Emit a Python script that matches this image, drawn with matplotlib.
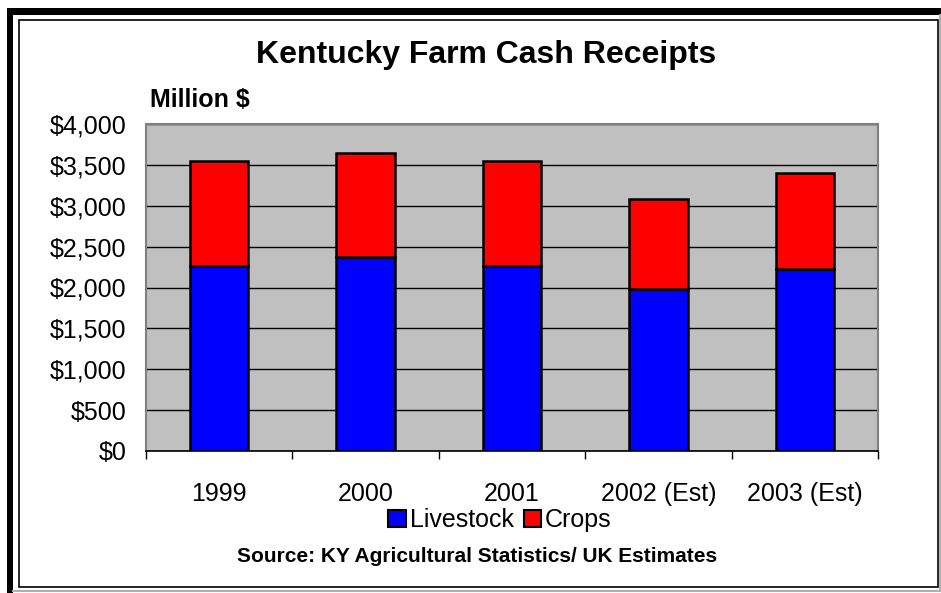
import matplotlib
matplotlib.use("Agg")
import matplotlib.pyplot as plt
import numpy as np
from matplotlib.patches import Patch, Rectangle
from matplotlib.ticker import FuncFormatter, MultipleLocator

plt.rcParams["font.family"] = ["Liberation Sans", "DejaVu Sans"]

# data (million $)
years = ["1999", "2000", "2001", "2002 (Est)", "2003 (Est)"]
livestock = [2260, 2370, 2265, 1980, 2230]
crops = [1290, 1270, 1280, 1105, 1170]

W, H = 941, 593


def fx(px):
    return px / W


def fy(py):
    return 1 - py / H


fig = plt.figure(figsize=(W / 100, H / 100), dpi=100)
fig.patch.set_facecolor("white")

# outer frame: thick black top/left, thin grey right/bottom, thin inner box
fig.add_artist(Rectangle((fx(7), fy(15)), fx(934), 7 / H, transform=fig.transFigure,
                         facecolor="black", edgecolor="none"))
fig.add_artist(Rectangle((fx(7), 0), 6 / W, fy(15), transform=fig.transFigure,
                         facecolor="black", edgecolor="none"))
fig.add_artist(Rectangle((fx(19), fy(587)), fx(919), (587 - 20) / H,
                         transform=fig.transFigure, facecolor="none",
                         edgecolor="black", linewidth=1.2))
fig.add_artist(plt.Line2D([fx(13), 1], [fy(591), fy(591)], transform=fig.transFigure,
                          color="#b0b0b0", linewidth=1.5))
fig.add_artist(plt.Line2D([fx(940), fx(940)], [fy(591), fy(15)],
                          transform=fig.transFigure, color="#b0b0b0", linewidth=1.5))

ax = fig.add_axes([fx(146), fy(451), fx(878 - 146), (451 - 124) / H])
ax.set_facecolor("#c0c0c0")

x = np.arange(len(years))
ax.bar(x, livestock, width=0.4, color="#0000ff", edgecolor="black", linewidth=1.8,
       zorder=3)
ax.bar(x, crops, width=0.4, bottom=livestock, color="#ff0000", edgecolor="black",
       linewidth=1.8, zorder=3)

ax.set_xlim(-0.5, len(years) - 0.5)
ax.set_ylim(0, 4000)
ax.yaxis.set_major_locator(MultipleLocator(500))
ax.yaxis.set_major_formatter(FuncFormatter(lambda v, _: f"${v:,.0f}"))
ax.grid(axis="y", color="black", linewidth=1.0, zorder=1)
ax.tick_params(axis="y", length=0, pad=14, labelsize=18)

# category ticks sit on the boundaries between bars
ax.set_xticks(x)
ax.set_xticklabels(years, fontsize=18)
ax.set_xticks(np.arange(len(years) + 1) - 0.5, minor=True)
ax.tick_params(axis="x", which="major", length=0, pad=22)
ax.tick_params(axis="x", which="minor", length=6, width=1, color="black")

for side in ["left", "top", "right"]:
    ax.spines[side].set_color("#808080")
    ax.spines[side].set_linewidth(1.5)
ax.spines["bottom"].set_color("black")
ax.spines["bottom"].set_linewidth(1.2)

fig.text(fx(486), fy(55), "Kentucky Farm Cash Receipts", ha="center", va="center",
         fontsize=23, fontweight="bold")
fig.text(fx(150), fy(100), "Million $", ha="left", va="center", fontsize=18,
         fontweight="bold")

handles = [Patch(facecolor="#0000ff", edgecolor="black", linewidth=1.5),
           Patch(facecolor="#ff0000", edgecolor="black", linewidth=1.5)]
fig.legend(handles, ["Livestock", "Crops"], loc="center", ncol=2,
           bbox_to_anchor=(fx(500), fy(520)), frameon=False, fontsize=18,
           handlelength=0.7, handleheight=0.7, handletextpad=0.15,
           columnspacing=0.4, borderpad=0)

fig.text(fx(477), fy(556), "Source: KY Agricultural Statistics/ UK Estimates",
         ha="center", va="center", fontsize=15, fontweight="bold")

fig.savefig("out.png", dpi=100)
